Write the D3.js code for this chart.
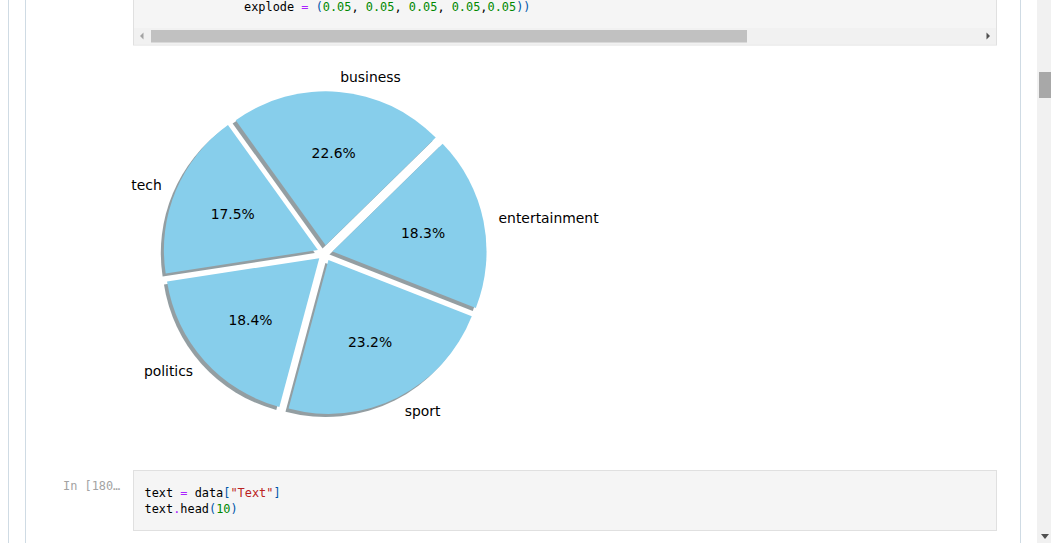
<!DOCTYPE html>
<html>
<head>
<meta charset="utf-8">
<script src="https://cdn.jsdelivr.net/npm/d3@7"></script>
<style>
  html, body { margin: 0; padding: 0; background: #ffffff; overflow: hidden; }
  svg { display: block; }
</style>
</head>
<body>
<svg id="page" width="1051" height="543"></svg>
<script>
// ---- data ----
const categories = ["entertainment", "business", "tech", "politics", "sport"];
const shares = [18.3, 22.6, 17.5, 18.4, 23.2];
const explode = [0.05, 0.05, 0.05, 0.05, 0.05];
const startAngleDeg = -21.5; // matplotlib convention (counter-clockwise from +x)

const codeTop = [
  [{t: "explode ", c: "#000"}, {t: "=", c: "#aa22ff"}, {t: " ", c: "#000"}, {t: "(", c: "#0055aa"},
   {t: "0.05", c: "#008800"}, {t: ", ", c: "#000"}, {t: "0.05", c: "#008800"}, {t: ", ", c: "#000"},
   {t: "0.05", c: "#008800"}, {t: ", ", c: "#000"}, {t: "0.05", c: "#008800"}, {t: ",", c: "#000"},
   {t: "0.05", c: "#008800"}, {t: "))", c: "#0055aa"}]
];
const codeBottom = [
  [{t: "text ", c: "#000"}, {t: "=", c: "#aa22ff"}, {t: " data", c: "#000"}, {t: "[", c: "#0055aa"},
   {t: "\"Text\"", c: "#ba2121"}, {t: "]", c: "#0055aa"}],
  [{t: "text", c: "#000"}, {t: ".", c: "#aa22ff"}, {t: "head", c: "#000"}, {t: "(", c: "#0055aa"},
   {t: "10", c: "#008800"}, {t: ")", c: "#0055aa"}]
];
const promptText = "In [180\u2026";

// ---- page chrome ----
const svg = d3.select("#page");
const mono = "'DejaVu Sans Mono', monospace";

function vline(x, y1, y2, col) {
  svg.append("line").attr("x1", x).attr("x2", x).attr("y1", y1).attr("y2", y2)
    .attr("stroke", col).attr("stroke-width", 1);
}
vline(8.5, 0, 543, "#cfdbe4");
vline(25.5, 0, 543, "#cfdbe4");
vline(1020.5, 0, 543, "#cfdbe4");

// right window scrollbar
svg.append("rect").attr("x", 1037).attr("y", 0).attr("width", 14).attr("height", 543).attr("fill", "#f1f1f1");
svg.append("rect").attr("x", 1039).attr("y", 72).attr("width", 12).attr("height", 26).attr("fill", "#a8a8a8");
svg.append("path").attr("d", "M1041,534 L1049,534 L1045,539 Z").attr("fill", "#505050");

// top code cell
svg.append("rect").attr("x", 133.5).attr("y", -2).attr("width", 863).attr("height", 47)
  .attr("fill", "#f5f5f5").attr("stroke", "#e0e0e0");
svg.append("rect").attr("x", 134).attr("y", 28).attr("width", 862).attr("height", 16.5).attr("fill", "#f1f1f1");
svg.append("rect").attr("x", 151).attr("y", 30).attr("width", 596).attr("height", 12.5).attr("fill", "#c1c1c1");
svg.append("path").attr("d", "M143.5,32.5 L143.5,39.5 L140,36 Z").attr("fill", "#a3a3a3");
svg.append("path").attr("d", "M986.5,32.5 L986.5,39.5 L990,36 Z").attr("fill", "#505050");

function codeLine(x, y, parts, size) {
  const t = svg.append("text").attr("x", x).attr("y", y)
    .attr("font-family", mono).attr("font-size", size).attr("xml:space", "preserve")
    .style("white-space", "pre");
  parts.forEach(p => t.append("tspan").attr("fill", p.c).text(p.t));
}
codeTop.forEach((ln, i) => codeLine(244, 11 + i * 16, ln, 11.9));

// bottom code cell
svg.append("rect").attr("x", 133.5).attr("y", 470.5).attr("width", 863).attr("height", 60)
  .attr("fill", "#f5f5f5").attr("stroke", "#e0e0e0");
svg.append("text").attr("x", 63).attr("y", 489.5).attr("font-family", mono).attr("font-size", 11.9)
  .attr("fill", "#a3a3a3").text(promptText);
codeBottom.forEach((ln, i) => codeLine(144.5, 497 + i * 16, ln, 11.9));

// ---- pie chart ----
const cx = 325, cy = 253, R = 154;
const deg = Math.PI / 180;
const a0 = (90 - startAngleDeg) * deg; // d3 angle (clockwise from 12 o'clock)

const pie = d3.pie().sort(null).value(d => d.v)
  .startAngle(a0).endAngle(a0 - 2 * Math.PI);
const data = categories.map((c, i) => ({c, v: shares[i], e: explode[i]}));
const arcs = pie(data);
const arc = d3.arc().innerRadius(0).outerRadius(R);

const g = svg.append("g").attr("transform", `translate(${cx},${cy})`);
const mid = d => (d.startAngle + d.endAngle) / 2;
const off = (d, k) => [k * R * Math.sin(mid(d)), -k * R * Math.cos(mid(d))];

// shadows (below all wedges)
g.selectAll("path.shadow").data(arcs).enter().append("path")
  .attr("class", "shadow")
  .attr("d", arc)
  .attr("transform", d => { const o = off(d, d.data.e); return `translate(${o[0] - 0.02 * R},${o[1] + 0.02 * R})`; })
  .attr("fill", "rgb(40,62,70)").attr("fill-opacity", 0.5);

// wedges
g.selectAll("path.wedge").data(arcs).enter().append("path")
  .attr("class", "wedge")
  .attr("d", arc)
  .attr("transform", d => { const o = off(d, d.data.e); return `translate(${o[0]},${o[1]})`; })
  .attr("fill", "skyblue");

const font = "'DejaVu Sans', sans-serif";
// category labels
g.selectAll("text.lab").data(arcs).enter().append("text")
  .attr("class", "lab")
  .attr("x", d => off(d, d.data.e + 1.1)[0])
  .attr("y", d => off(d, d.data.e + 1.1)[1])
  .attr("text-anchor", d => off(d, 1)[0] > 0 ? "start" : "end")
  .attr("dominant-baseline", "central")
  .attr("font-family", font).attr("font-size", 13.9).attr("fill", "#000")
  .text(d => d.data.c);

// percentage labels
g.selectAll("text.pct").data(arcs).enter().append("text")
  .attr("class", "pct")
  .attr("x", d => off(d, d.data.e + 0.6)[0])
  .attr("y", d => off(d, d.data.e + 0.6)[1])
  .attr("text-anchor", "middle")
  .attr("dominant-baseline", "central")
  .attr("font-family", font).attr("font-size", 13.9).attr("fill", "#000")
  .text(d => d.data.v.toFixed(1) + "%");
</script>
</body>
</html>
